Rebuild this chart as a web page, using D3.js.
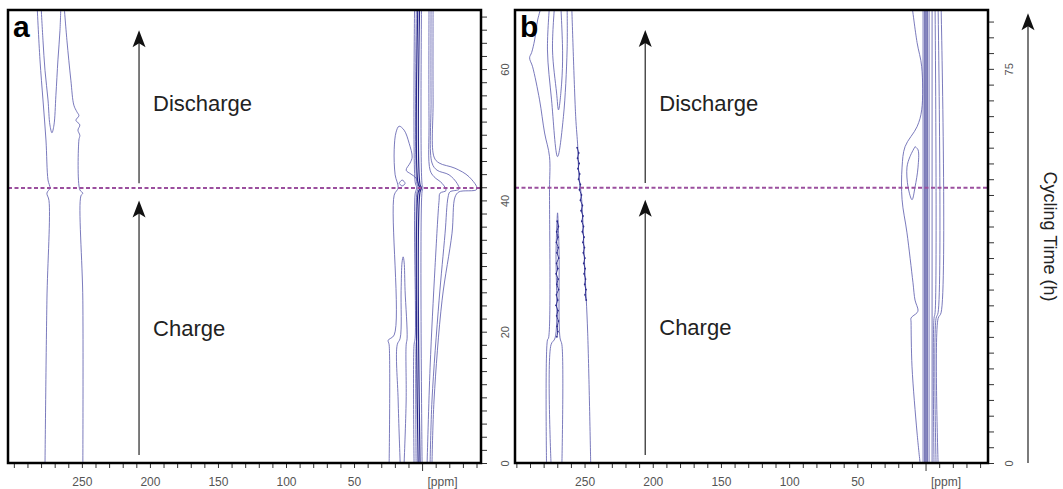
<!DOCTYPE html>
<html>
<head>
<meta charset="utf-8">
<script src="https://cdn.jsdelivr.net/npm/d3@7"></script>
<style>
  body { margin: 0; background: #fff; }
  svg { display: block; font-family: "Liberation Sans", Arial, sans-serif; }
</style>
</head>
<body>
<div id="chart"></div>
<script>
// ---- axis values ----
const xLabels = [250, 200, 150, 100, 50];
const ppmUnitAt = -15;
const aTimeLabels = [0, 20, 40, 60];
const bTimeLabels = [0, 25, 50, 75];
const aPpmRange = [304.3, -43.3];
const bPpmRange = [301.0, -45.8];
const aTimeRange = [0, 69.0];
const bTimeRange = [0, 86.2];
const aTickStep = 2;   // hours
const bTickStep = 3;

// charge -> discharge switch (h)
const aSwitchH = 41.9;
const bSwitchH = 52.4;

// annotation arrows [from h, to h] at a ppm position
const aArrowPpm = 208, bArrowPpm = 205.5;
const aArrows = [[1.2, 40.0], [42.6, 65.9]];
const bArrows = [[1.5, 50.1], [53.3, 82.4]];
const phaseNames = ["Discharge", "Charge"];
const aPhaseH = [53.6, 19.4];
const bPhaseH = [67.0, 24.3];

// ---- contour lines, [ppm, hours] ----
// panel a, Li metal region
const aL1 = [[277.1,0],[275.7,24.8],[274.2,40.0],[275.7,41.1],[273.5,41.9],[274.9,43.1],[276.4,49.2],[278.6,55.3],[280.8,61.4],[283.0,70]];
const aU  = [[280.1,70],[278.6,64.4],[277.1,59.8],[274.9,55.3],[273.5,51.5],[272.0,50.3],[270.5,51.5],[269.1,56.0],[267.6,61.4],[266.1,65.9],[265.4,70]];
const aL2 = [[263.2,70],[261.0,64.4],[258.1,58.3],[255.9,54.5],[253.7,53.5],[252.2,52.9],[254.4,52.2],[251.5,51.5],[252.9,50.7],[251.5,49.9],[252.2,49.2],[251.5,41.6],[249.3,41.1],[250.7,40.7],[249.3,24.8],[249.3,0]];
// panel a, diamagnetic region
const aOL = [[24.2,0],[24.2,18.0],[24.9,18.7],[20.5,19.5],[20.5,40.8],[17.6,41.9],[19.8,43.9],[20.5,47.7],[19.1,50.4],[16.9,51.3],[13.2,50.7],[9.5,48.7],[7.3,46.6],[8.8,45.7],[11.7,44.6],[8.1,44.0],[4.4,43.4],[2.2,42.2],[1.5,41.3]];
const aLoop = [[16.9,42.6],[14.7,43.1],[12.5,42.6],[14.7,42.2],[16.9,42.6]];
const aLens = [[16.1,0],[17.6,9.6],[18.3,18.0],[16.1,19.0],[15.4,26.3],[14.7,30.6],[13.9,31.4],[13.2,30.6],[12.5,26.3],[11.0,19.0],[11.7,18.0],[11.7,9.6],[13.2,0]];
const aC1 = [[5.9,0],[5.9,18.0],[5.1,19.0],[5.1,41.0],[4.0,41.9],[5.1,42.8],[5.5,70]];
const aC2 = [[4.4,0],[4.4,18.0],[3.9,19.0],[3.9,41.1],[2.9,41.9],[3.9,42.6],[4.2,70]];
const aC3 = [[2.9,0],[2.9,41.2],[1.5,41.9],[2.9,42.5],[3.1,70]];
const aC4 = [[1.5,0],[1.5,41.3],[0.4,41.9],[1.5,42.4],[1.8,70]];
const aC5 = [[0.0,0],[0.0,41.4],[-0.7,41.9],[0.0,42.4],[0.4,70]];
const aR1 = [[-3.7,0],[-5.9,14.6],[-9.5,29.8],[-12.5,40.0],[-13.2,41.1],[-17.6,41.5],[-14.7,42.6],[-8.8,43.6],[-5.9,44.6],[-5.1,52.2],[-5.1,70]];
const aR2 = [[-5.9,0],[-7.3,9.6],[-12.5,24.8],[-16.9,35.0],[-19.1,40.5],[-20.5,41.3],[-27.1,41.7],[-25.7,42.6],[-19.8,43.9],[-11.0,44.6],[-7.3,45.7],[-6.6,55.3],[-6.6,70]];
const aR3 = [[-7.3,0],[-8.8,9.6],[-14.7,24.8],[-22.0,35.0],[-24.2,40.5],[-27.1,41.3],[-40.3,41.7],[-34.5,43.6],[-24.2,44.9],[-12.5,45.7],[-8.8,46.6],[-8.1,55.3],[-8.1,70]];

// panel b, Li metal region
const bOL = [[277.9,0],[277.2,23.4],[276.4,23.8],[275.7,52.0],[275.7,58.3],[279.3,62.8],[283.0,69.1],[288.1,75.4],[290.3,77.1],[288.8,78.1],[286.6,80.5],[284.4,84.3],[281.5,87]];
const bM2 = [[275.7,87],[277.2,78.6],[274.2,69.1],[269.8,58.3],[265.5,65.9],[262.8,78.6],[262.8,87]];
const bM3 = [[272.0,87],[273.5,78.6],[270.5,70.4],[269.1,67.2],[266.8,72.3],[266.1,78.0],[267.4,87]];
const bLens = [[274.6,0],[274.6,22.5],[271.6,23.8],[270.9,40.5],[270.2,46.0],[269.8,47.6],[269.4,46.0],[268.7,40.5],[268.0,23.8],[266.6,22.5],[266.6,0]];
const bRb = [[245.5,0],[247.7,24.7],[249.9,37.3],[252.1,50.1],[254.3,55.2],[255.0,60.2],[256.5,65.9],[259.4,87]];
const bRbNoise = [[255.4,60],[254.3,59],[255.1,58],[254.0,57],[254.8,56],[253.6,55],[254.4,54],[253.1,53],[253.7,52],[252.3,51],[253.0,50],[251.6,49],[252.5,48],[251.2,47],[252.0,46],[250.8,45],[251.6,44],[250.4,43],[251.2,42],[250.1,41],[250.9,40],[249.8,39],[250.6,38],[249.6,37],[250.3,36],[249.3,35],[249.9,34],[249.0,33],[249.6,32],[248.8,31]];
const bLensNoise = [[270.0,46],[269.2,45],[270.4,44],[269.5,43],[270.6,42],[269.3,41],[270.2,40],[269.0,39],[270.5,38],[269.6,37],[270.8,36],[269.4,35],[270.3,34],[269.1,33],[270.6,32],[269.7,31],[270.9,30],[269.5,29],[270.4,28],[269.2,27],[270.1,26],[269.6,25],[270.3,24]];
// panel b, diamagnetic region
const bOR = [[9.9,87],[6.2,80.0],[2.8,75.4],[2.8,67.2],[6.2,64.0],[15.0,60.2],[17.2,56.3],[17.2,50.1],[13.6,43.8],[9.2,34.3],[7.7,31.0],[5.5,29.1],[6.2,28.6],[10.6,27.6],[10.6,26.8],[9.9,18.3],[6.2,5.7],[4.0,0]];
const bIL = [[7.7,60.2],[11.4,58.3],[13.6,56.3],[12.8,52.5],[9.9,50.1],[7.7,52.5],[5.5,56.3],[5.5,59.6],[7.7,60.2]];
const bB1 = [[1.8,0],[1.8,87]];
const bB2 = [[0.4,0],[0.4,87]];
const bB3 = [[-1.1,0],[-1.1,87]];
const bB4 = [[-2.6,0],[-2.6,87]];
const bB5 = [[-4.8,0],[-4.8,87]];
const bB6 = [[-6.2,0],[-6.2,27.5],[-7.0,28.6],[-7.0,87]];
const bB7 = [[-7.7,0],[-7.7,27.5],[-9.2,28.6],[-9.2,87]];
const bB8 = [[-9.2,0],[-9.2,27.5],[-11.4,28.6],[-11.4,87]];

const aLight = [aL1, aU, aL2, aOL, aLoop, aLens, aC1, aC2, aC5, aR1, aR2, aR3];
const aDark  = [aC3, aC4];
const bLight = [bOL, bM2, bM3, bLens, bRb, bOR, bIL, bB1, bB4, bB5, bB6, bB7, bB8];
const bDark  = [bB2, bB3];
const bNoise = [bRbNoise, bLensNoise];

// ---- drawing ----
const W = 1063, H = 489;
const plotTop = 10, plotBottom = 463;
const light = "#6262b0", dark = "#2a2a8c", dashColor = "#9b4f9e", labelColor = "#555";

const svg = d3.select("#chart").append("svg")
  .attr("width", W).attr("height", H)
  .style("background", "#fff");

function arrow(g, x, y1, y2){
  g.append("line")
    .attr("x1", x).attr("x2", x).attr("y1", y1).attr("y2", y2 + 12)
    .attr("stroke", "#444").attr("stroke-width", 1.4);
  g.append("path")
    .attr("d", `M${x},${y2} L${x-6.5},${y2+17} L${x},${y2+13} L${x+6.5},${y2+17} Z`)
    .attr("fill", "#111");
}

function drawPanel(p){
  const x = d3.scaleLinear().domain(p.ppmRange).range([p.x0, p.x1]);
  const y = d3.scaleLinear().domain(p.timeRange).range([plotBottom, plotTop]);
  const g = svg.append("g");

  g.append("clipPath").attr("id", "clip-" + p.id)
    .append("rect").attr("x", p.x0).attr("y", plotTop)
    .attr("width", p.x1 - p.x0).attr("height", plotBottom - plotTop);

  const line = d3.line().x(d => x(d[0])).y(d => y(d[1]))
    .curve(d3.curveCatmullRom.alpha(0.5));
  const plot = g.append("g").attr("clip-path", `url(#clip-${p.id})`);

  plot.selectAll("path.light").data(p.light).enter().append("path")
    .attr("class", "light").attr("d", line)
    .attr("fill", "none").attr("stroke", light).attr("stroke-width", 0.85);
  plot.selectAll("path.dark").data(p.dark).enter().append("path")
    .attr("class", "dark").attr("d", line)
    .attr("fill", "none").attr("stroke", dark).attr("stroke-width", 1.2);

  // noisy stretches: thin jagged trace plus dots
  (p.noise || []).forEach(n => {
    plot.append("path")
      .attr("d", d3.line().x(d => x(d[0])).y(d => y(d[1]))(n))
      .attr("fill", "none").attr("stroke", dark).attr("stroke-width", 0.9);
    plot.selectAll(null).data(n).enter().append("circle")
      .attr("cx", d => x(d[0])).attr("cy", d => y(d[1]))
      .attr("r", 0.9).attr("fill", dark);
  });

  // charge/discharge switch
  plot.append("line")
    .attr("x1", p.x0).attr("x2", p.x1)
    .attr("y1", y(p.switchH)).attr("y2", y(p.switchH))
    .attr("stroke", dashColor).attr("stroke-width", 2)
    .attr("stroke-dasharray", "4,2.5");

  // arrows + phase labels
  const ax = x(p.arrowPpm);
  p.arrows.forEach(a => arrow(g, ax, y(a[0]), y(a[1])));
  g.selectAll("text.phase").data(phaseNames).enter().append("text")
    .attr("class", "phase")
    .attr("x", ax + 14).attr("y", (d, i) => y(p.phaseH[i]))
    .attr("font-size", 22).attr("fill", "#222")
    .text(d => d);

  // bottom ppm axis
  const xt = d3.range(300, -50, -10).filter(v => v <= p.ppmRange[0] && v >= p.ppmRange[1]);
  const xAxis = g.append("g").attr("transform", `translate(0,${plotBottom})`)
    .call(d3.axisBottom(x).tickValues(xt).tickSize(5).tickSizeOuter(0)
      .tickFormat(d => xLabels.includes(d) ? d : ""));
  xAxis.select(".domain").remove();
  xAxis.selectAll(".tick line").attr("stroke", "#333")
    .attr("y2", d => d === 0 ? 8 : 5);
  xAxis.selectAll(".tick text").attr("y", 14)
    .attr("font-size", 12).attr("fill", labelColor)
    .attr("font-family", "'Liberation Sans', Arial, sans-serif");
  g.append("text")
    .attr("x", x(ppmUnitAt)).attr("y", 486)
    .attr("text-anchor", "middle").attr("font-size", 12).attr("fill", labelColor)
    .text("[ppm]");

  // right time axis
  const yt = d3.range(0, p.timeRange[1], p.tickStep);
  const yAxis = g.append("g").attr("transform", `translate(${p.x1},0)`)
    .call(d3.axisRight(y).tickValues(yt).tickSize(6).tickSizeOuter(0)
      .tickFormat(d => p.timeLabels.includes(d) ? d : ""));
  yAxis.select(".domain").remove();
  yAxis.selectAll(".tick line").attr("stroke", "#333");
  yAxis.selectAll(".tick text")
    .attr("x", 0).attr("y", 0).attr("dy", "0.35em")
    .attr("transform", `translate(${p.labelGap},0) rotate(-90)`)
    .attr("text-anchor", "middle")
    .attr("font-size", 11).attr("fill", labelColor)
    .attr("font-family", "'Liberation Sans', Arial, sans-serif");

  // frame
  g.append("rect")
    .attr("x", p.x0).attr("y", plotTop)
    .attr("width", p.x1 - p.x0).attr("height", plotBottom - plotTop)
    .attr("fill", "none").attr("stroke", "#000").attr("stroke-width", 2.5);

  g.append("text")
    .attr("x", p.x0 + 5).attr("y", plotTop + 27)
    .attr("font-size", 30).attr("font-weight", "bold").attr("fill", "#000")
    .text(p.id);

  return y;
}

drawPanel({
  id: "a", x0: 8, x1: 481, labelGap: 24,
  ppmRange: aPpmRange, timeRange: aTimeRange, tickStep: aTickStep, timeLabels: aTimeLabels,
  switchH: aSwitchH, arrowPpm: aArrowPpm, arrows: aArrows, phaseH: aPhaseH,
  light: aLight, dark: aDark
});
const yb = drawPanel({
  id: "b", x0: 515, x1: 988, labelGap: 21,
  ppmRange: bPpmRange, timeRange: bTimeRange, tickStep: bTickStep, timeLabels: bTimeLabels,
  switchH: bSwitchH, arrowPpm: bArrowPpm, arrows: bArrows, phaseH: bPhaseH,
  light: bLight, dark: bDark, noise: bNoise
});

// overall time arrow and title
const side = svg.append("g");
arrow(side, 1028, yb(0), yb(85.6));
side.append("text")
  .attr("transform", `translate(1044,${(plotTop + plotBottom) / 2}) rotate(90)`)
  .attr("text-anchor", "middle")
  .attr("font-size", 18).attr("fill", "#222")
  .text("Cycling Time (h)");
</script>
</body>
</html>
